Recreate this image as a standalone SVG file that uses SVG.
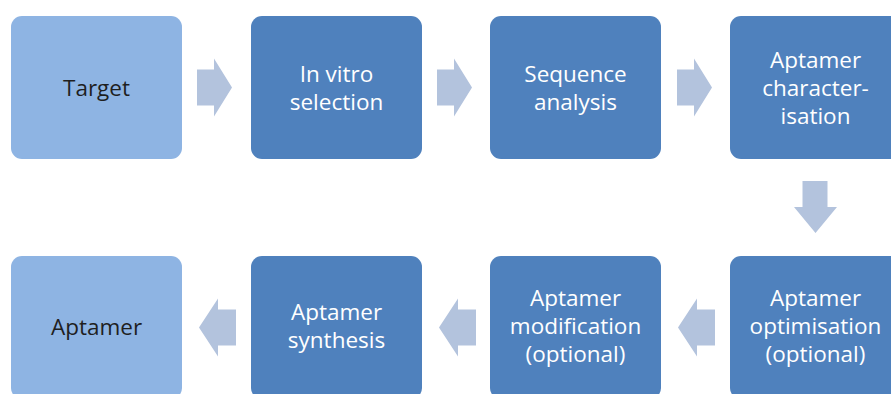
<svg xmlns="http://www.w3.org/2000/svg" width="891" height="394" viewBox="0 0 891 394">
<style>
.light{fill:#8EB4E3;}
.dark{fill:#4F81BD;}
.arrow{fill:#B3C3DD;}
text{font-family:"Open Sans","Liberation Sans",sans-serif;font-size:22.5px;text-anchor:middle;}
.tl{fill:#1F1F1F;}
.td{fill:#FFFFFF;}
</style>
<rect width="891" height="394" fill="#FFFFFF"/>
<g id="connectors">
<polygon class="arrow" points="197,69.5 214,69.5 214,58.5 232,87.5 214,116.5 214,105.5 197,105.5"/>
<polygon class="arrow" points="437,69.5 454,69.5 454,58.5 472,87.5 454,116.5 454,105.5 437,105.5"/>
<polygon class="arrow" points="677,69.5 694,69.5 694,58.5 712,87.5 694,116.5 694,105.5 677,105.5"/>
<polygon class="arrow" points="802.5,181 827.5,181 827.5,207 837,207 815.5,233 794,207 802.5,207"/>
<polygon class="arrow" points="715,309.5 697,309.5 697,298.5 678,327.5 697,356.5 697,345.5 715,345.5"/>
<polygon class="arrow" points="476,309.5 458,309.5 458,298.5 439,327.5 458,356.5 458,345.5 476,345.5"/>
<polygon class="arrow" points="236,309.5 218,309.5 218,298.5 199,327.5 218,356.5 218,345.5 236,345.5"/>
</g>
<g id="target">
<rect class="light" x="11" y="16" width="171" height="143" rx="11"/>
<text class="tl" x="96.5" y="95.5">Target</text>
</g>
<g id="in-vitro-selection">
<rect class="dark" x="251" y="16" width="171" height="143" rx="11"/>
<text class="td" x="336.5" y="81.5">In vitro</text>
<text class="td" x="336.5" y="109.5">selection</text>
</g>
<g id="sequence-analysis">
<rect class="dark" x="490" y="16" width="171" height="143" rx="11"/>
<text class="td" x="575.5" y="81.5">Sequence</text>
<text class="td" x="575.5" y="109.5">analysis</text>
</g>
<g id="aptamer-characterisation">
<rect class="dark" x="730" y="16" width="171" height="143" rx="11"/>
<text class="td" x="815.5" y="67.5">Aptamer</text>
<text class="td" x="815.5" y="95.5">character-</text>
<text class="td" x="815.5" y="123.5">isation</text>
</g>
<g id="aptamer-optimisation">
<rect class="dark" x="730" y="256" width="171" height="143" rx="11"/>
<text class="td" x="815.5" y="306">Aptamer</text>
<text class="td" x="815.5" y="334">optimisation</text>
<text class="td" x="815.5" y="362">(optional)</text>
</g>
<g id="aptamer-modification">
<rect class="dark" x="490" y="256" width="171" height="143" rx="11"/>
<text class="td" x="575.5" y="306">Aptamer</text>
<text class="td" x="575.5" y="334">modification</text>
<text class="td" x="575.5" y="362">(optional)</text>
</g>
<g id="aptamer-synthesis">
<rect class="dark" x="251" y="256" width="171" height="143" rx="11"/>
<text class="td" x="336.5" y="320">Aptamer</text>
<text class="td" x="336.5" y="348">synthesis</text>
</g>
<g id="aptamer">
<rect class="light" x="11" y="256" width="171" height="143" rx="11"/>
<text class="tl" x="96.5" y="335">Aptamer</text>
</g>
</svg>
